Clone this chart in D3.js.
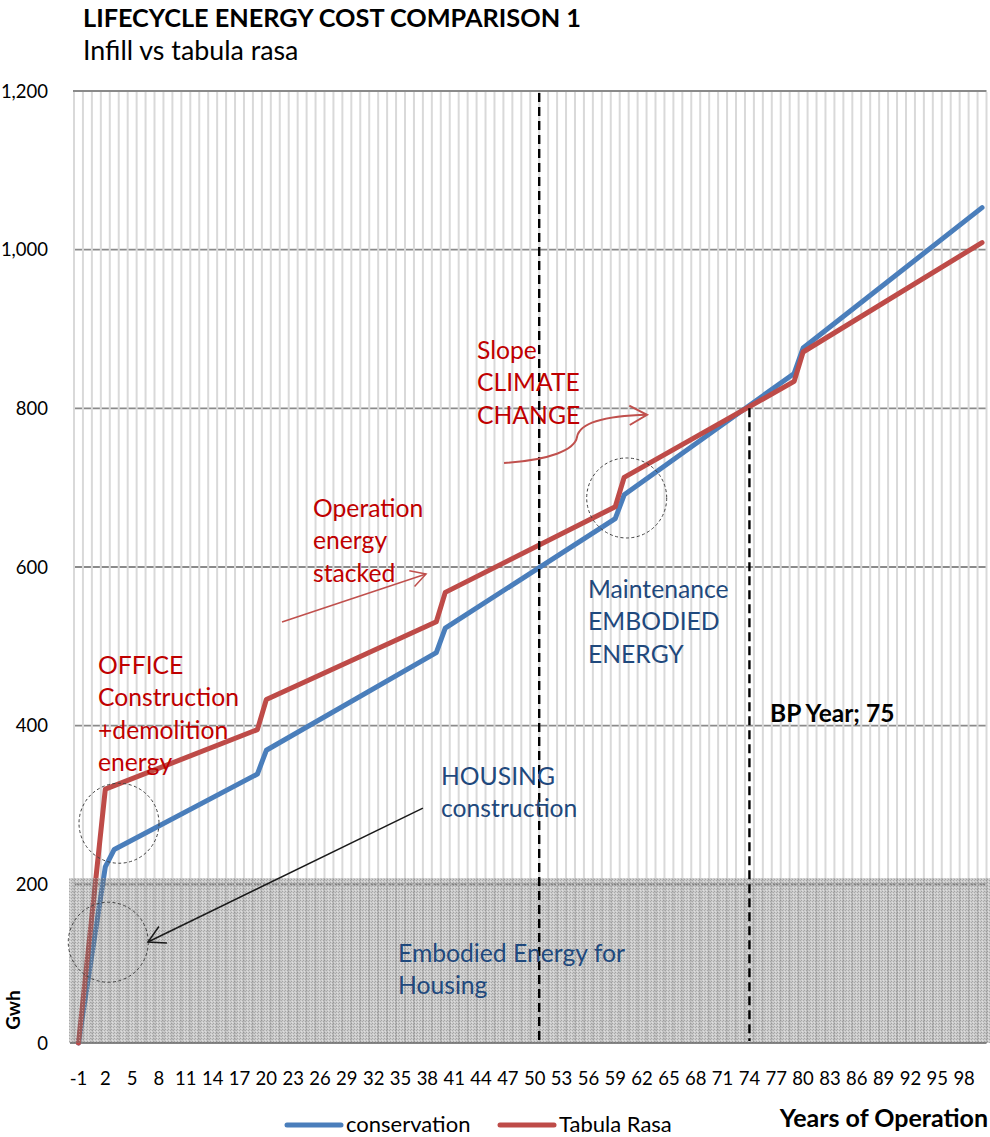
<!DOCTYPE html>
<html>
<head>
<meta charset="utf-8">
<script src="https://cdn.jsdelivr.net/npm/d3@7"></script>
<style>
  body { margin: 0; background: #fff; }
  svg { display: block; font-family: Lato, "Open Sans", sans-serif; }
</style>
</head>
<body>
<svg id="chart" width="990" height="1137"></svg>
<script>
// Years of operation (category axis) and the labels shown on it
const categories = d3.range(-1, 101);
const xTickLabels = [-1, 2, 5, 8, 11, 14, 17, 20, 23, 26, 29, 32, 35, 38, 41, 44, 47, 50,
                     53, 56, 59, 62, 65, 68, 71, 74, 77, 80, 83, 86, 89, 92, 95, 98];
const yTicks = [0, 200, 400, 600, 800, 1000, 1200];

// Cumulative lifecycle energy (GWh) at the years where the slope changes
const conservationYears = [-1, 2, 3, 19, 20, 39, 40, 59, 60, 79, 80, 100];
const conservationGwh   = [0, 222, 244, 339, 369, 492, 523, 661, 691, 844, 876, 1053];
const tabulaYears = [-1, 2, 19, 20, 39, 40, 59, 60, 79, 80, 100];
const tabulaGwh   = [0, 320, 395, 433, 531, 568, 676, 713, 834, 871, 1009];

const seriesNames = ["conservation", "Tabula Rasa"];
const seriesColors = ["#4a7ebb", "#be4b48"];

// Reference markers
const bpYear = 74;            // break-even year where the two curves meet
const midlifeBoundary = 50.5; // mid-life divider
const housingEmbodied = 208;  // embodied energy band for housing

const svg = d3.select("#chart");
const plot = { left: 74, right: 986.5, top: 91, bottom: 1043 };

const x = d3.scaleLinear()
  .domain([categories[0] - 0.5, categories[categories.length - 1] + 0.5])
  .range([plot.left, plot.right]);
const y = d3.scaleLinear().domain([0, 1200]).range([plot.bottom, plot.top]);

// Horizontal gridlines
svg.append("g").selectAll("line")
  .data(yTicks.filter(d => d > 0))
  .join("line")
  .attr("x1", plot.left - 1).attr("x2", plot.right)
  .attr("y1", d => y(d)).attr("y2", d => y(d))
  .attr("stroke", "#8a8a8a").attr("stroke-width", 1.8);

// Vertical gridlines at every category boundary
const boundaries = categories.map(c => c - 0.5).concat([categories[categories.length - 1] + 0.5]);
svg.append("g").selectAll("line")
  .data(boundaries)
  .join("line")
  .attr("x1", d => x(d)).attr("x2", d => x(d))
  .attr("y1", plot.top + 1).attr("y2", plot.bottom)
  .attr("stroke", "#d9d9d9").attr("stroke-width", 2);

// Category axis baseline
svg.append("line")
  .attr("x1", plot.left - 4).attr("x2", plot.right)
  .attr("y1", y(0)).attr("y2", y(0))
  .attr("stroke", "#868686").attr("stroke-width", 2.2);

// Series lines
const line = d3.line().x(d => x(d[0])).y(d => y(d[1]));
const series = [
  d3.zip(conservationYears, conservationGwh),
  d3.zip(tabulaYears, tabulaGwh)
];
svg.append("g").selectAll("path")
  .data(series)
  .join("path")
  .attr("d", line)
  .attr("fill", "none")
  .attr("stroke", (d, i) => seriesColors[i])
  .attr("stroke-width", 5)
  .attr("stroke-linejoin", "round")
  .attr("stroke-linecap", "round");

// Textured band: embodied energy for housing
const defs = svg.append("defs");
const pat = defs.append("pattern")
  .attr("id", "dots").attr("patternUnits", "userSpaceOnUse")
  .attr("width", 3).attr("height", 3);
pat.append("rect").attr("width", 3).attr("height", 3).attr("fill", "rgba(120,120,120,0.38)");
pat.append("rect").attr("x", 0).attr("y", 0).attr("width", 1).attr("height", 1).attr("fill", "rgba(90,90,90,0.35)");
pat.append("rect").attr("x", 2).attr("y", 1).attr("width", 1).attr("height", 1).attr("fill", "rgba(90,90,90,0.3)");
pat.append("rect").attr("x", 1).attr("y", 2).attr("width", 1).attr("height", 1).attr("fill", "rgba(255,255,255,0.35)");

svg.append("rect")
  .attr("x", x(-2.05)).attr("y", y(housingEmbodied))
  .attr("width", x(100.9) - x(-2.05))
  .attr("height", y(0) - y(housingEmbodied))
  .attr("fill", "url(#dots)");

// Dashed reference lines
svg.append("line")
  .attr("x1", x(midlifeBoundary)).attr("x2", x(midlifeBoundary))
  .attr("y1", plot.top + 2).attr("y2", plot.bottom - 2)
  .attr("stroke", "#000").attr("stroke-width", 2.4).attr("stroke-dasharray", "9,5");
svg.append("line")
  .attr("x1", x(bpYear)).attr("x2", x(bpYear))
  .attr("y1", y(800)).attr("y2", plot.bottom - 2)
  .attr("stroke", "#000").attr("stroke-width", 2.4).attr("stroke-dasharray", "9,5");

// Dashed circles highlighting the construction and maintenance steps
const circles = [[3.53, 277], [2.33, 127], [60.28, 687]];
svg.append("g").selectAll("circle")
  .data(circles)
  .join("circle")
  .attr("cx", d => x(d[0])).attr("cy", d => y(d[1])).attr("r", 40)
  .attr("fill", "none").attr("stroke", "#404040").attr("stroke-width", 1)
  .attr("stroke-dasharray", "3,2.5");

// Arrow helper: open V head at the end point
function arrowHead(g, p, prev, len, color, width) {
  const ang = Math.atan2(p[1] - prev[1], p[0] - prev[0]);
  const a = Math.PI / 6.2;
  const pts = [ang + Math.PI - a, ang + Math.PI + a].map(t => [p[0] + len * Math.cos(t), p[1] + len * Math.sin(t)]);
  g.append("path")
    .attr("d", `M${pts[0][0]},${pts[0][1]}L${p[0]},${p[1]}L${pts[1][0]},${pts[1][1]}`)
    .attr("fill", "none").attr("stroke", color).attr("stroke-width", width)
    .attr("stroke-linejoin", "miter");
}
const P = d => [x(d[0]), y(d[1])];

// Black arrow towards the housing construction step
const blackArrow = [[37.5, 296], [6.77, 127.3]].map(P);
const ga = svg.append("g");
ga.append("line")
  .attr("x1", blackArrow[0][0]).attr("y1", blackArrow[0][1])
  .attr("x2", blackArrow[1][0]).attr("y2", blackArrow[1][1])
  .attr("stroke", "#1a1a1a").attr("stroke-width", 1.5);
arrowHead(ga, blackArrow[1], blackArrow[0], 19, "#1a1a1a", 1.5);

// Straight red arrow: operation energy stacked
const redArrow = [[21.75, 530.7], [37.85, 591.2]].map(P);
ga.append("line")
  .attr("x1", redArrow[0][0]).attr("y1", redArrow[0][1])
  .attr("x2", redArrow[1][0]).attr("y2", redArrow[1][1])
  .attr("stroke", "#c0504d").attr("stroke-width", 1.5);
arrowHead(ga, redArrow[1], redArrow[0], 17, "#c0504d", 1.5);

// Curved red arrow: climate change slope
const curve = [[46.57, 731], [51.7, 735], [54.5, 747.5], [54.73, 764],
               [55.06, 783], [58.4, 790.6], [62.55, 791.8]].map(P);
ga.append("path")
  .attr("d", `M${curve[0]}C${curve[1]} ${curve[2]} ${curve[3]}C${curve[4]} ${curve[5]} ${curve[6]}`)
  .attr("fill", "none").attr("stroke", "#c0504d").attr("stroke-width", 2);
arrowHead(ga, curve[6], curve[5], 20, "#c0504d", 2);

// Text annotations
function block(lines, x0, y0, color, size, weight) {
  const t = svg.append("text")
    .attr("x", x0).attr("y", y0)
    .attr("fill", color).attr("font-size", size)
    .attr("font-weight", weight || "normal");
  lines.forEach((s, i) => t.append("tspan").attr("x", x0).attr("y", y0 + i * 32.3).text(s));
}
const red = "#c00000", navy = "#1f497d";
block(["OFFICE", "Construction", "+demolition", "energy"], 98, 674, red, 24.7);
block(["HOUSING", "construction"], 441, 785, navy, 24.7);
block(["Operation", "energy", "stacked"], 313, 517, red, 24.7);
block(["Slope", "CLIMATE", "CHANGE"], 477, 359, red, 24.7);
block(["Maintenance", "EMBODIED", "ENERGY"], 588, 598, navy, 24.7);
block(["Embodied Energy for", "Housing"], 398, 962, navy, 24.7);
block(["BP Year; " + (bpYear + 1)], 770, 722, "#000", 24.5, "bold");

// Titles
svg.append("text").attr("x", 83).attr("y", 27)
  .attr("font-size", 25.3).attr("font-weight", "bold").attr("fill", "#000")
  .text("LIFECYCLE ENERGY COST COMPARISON 1");
svg.append("text").attr("x", 83).attr("y", 60)
  .attr("font-size", 26.8).attr("fill", "#000")
  .text("Infill vs tabula rasa");

// Value axis labels
svg.append("g").selectAll("text")
  .data(yTicks)
  .join("text")
  .attr("x", 48).attr("y", d => y(d) + 6.5)
  .attr("text-anchor", "end").attr("font-size", 18.5).attr("fill", "#000")
  .text(d => d3.format(",")(d));

// Category axis labels
svg.append("g").selectAll("text")
  .data(xTickLabels)
  .join("text")
  .attr("x", d => x(d)).attr("y", 1085)
  .attr("text-anchor", "middle").attr("font-size", 18.5).attr("fill", "#000")
  .text(d => d);

// Axis titles
svg.append("text")
  .attr("transform", "translate(20,1010) rotate(-90)")
  .attr("text-anchor", "middle").attr("font-size", 19).attr("font-weight", "bold")
  .text("Gwh");
svg.append("text").attr("x", 988).attr("y", 1127)
  .attr("text-anchor", "end").attr("font-size", 25).attr("font-weight", "bold")
  .text("Years of Operation");

// Legend
const legendX = [287, 500];
const lg = svg.append("g").selectAll("g")
  .data(seriesNames)
  .join("g")
  .attr("transform", (d, i) => `translate(${legendX[i]},1125)`);
lg.append("line").attr("x1", 0).attr("x2", 54).attr("y1", 0).attr("y2", 0)
  .attr("stroke", (d, i) => seriesColors[i]).attr("stroke-width", 5).attr("stroke-linecap", "round");
lg.append("text").attr("x", 59).attr("y", 6.5)
  .attr("font-size", 22).attr("fill", "#000")
  .text(d => d);
</script>
</body>
</html>
